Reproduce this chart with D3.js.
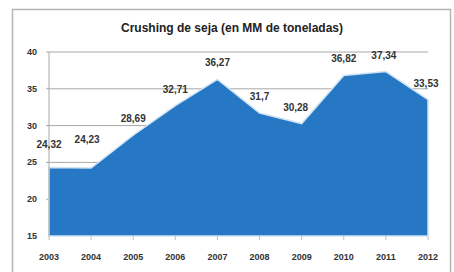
<!DOCTYPE html>
<html>
<head>
<meta charset="utf-8">
<script src="https://cdn.jsdelivr.net/npm/d3@7"></script>
<style>
  html, body { margin: 0; padding: 0; background: #fff; }
  text { font-family: "Liberation Sans Narrow", "Liberation Sans", Arial, sans-serif; }
</style>
</head>
<body>
<svg></svg>
<script>
/* chart data */
var years = ['2003', '2004', '2005', '2006', '2007', '2008', '2009', '2010', '2011', '2012'];
var crushing = [24.32, 24.23, 28.69, 32.71, 36.27, 31.7, 30.28, 36.82, 37.34, 33.53];
var yTicks = [15, 20, 25, 30, 35, 40];
var title = 'Crushing de seja (en MM de toneladas)';

svgWidth = 454;
svgHeight = 272;
var margin = {top: 52, right: 26, bottom: 36, left: 49};
var width = svgWidth - margin.left - margin.right;
var height = svgHeight - margin.top - margin.bottom;
var scale = {};

var svg = d3.select('svg')
    .attr('width', svgWidth)
    .attr('height', svgHeight);

/* outer frame */
svg.append('rect')
    .attr('x', 12.5).attr('y', 9.5)
    .attr('width', 438).attr('height', 270)
    .attr('fill', '#fff')
    .attr('stroke', '#b4b4b4')
    .attr('stroke-width', 1.5);

svg.append('text')
    .attr('x', 232).attr('y', 32)
    .attr('text-anchor', 'middle')
    .attr('font-size', 12)
    .attr('font-weight', 'bold')
    .attr('fill', '#222')
    .text(title);

setScale();

var g = svg.append('g')
    .attr('transform', translate(margin.left, margin.top));

/* grid lines */
g.selectAll('line.grid')
    .data(yTicks.filter(function(d){ return d > 15; }))
    .enter()
    .append('line')
    .attr('class', 'grid')
    .attr('x1', -3).attr('x2', width)
    .attr('y1', function(d){ return scale.y(d); })
    .attr('y2', function(d){ return scale.y(d); })
    .attr('stroke', '#a8a8a8')
    .attr('stroke-width', 1);

/* area */
var area = d3.area()
    .x(function(d, i){ return scale.x(years[i]); })
    .y0(scale.y(15))
    .y1(function(d){ return scale.y(d); });

g.append('path')
    .datum(crushing)
    .attr('d', area)
    .attr('fill', '#2677c4')
    .attr('stroke', '#cfe3f5')
    .attr('stroke-width', 1.5);

/* left axis line */
g.append('line')
    .attr('x1', 0).attr('x2', 0)
    .attr('y1', 0).attr('y2', height)
    .attr('stroke', '#a8a8a8');

/* x ticks */
g.selectAll('line.xtick')
    .data(years)
    .enter()
    .append('line')
    .attr('class', 'xtick')
    .attr('x1', function(d){ return scale.x(d); })
    .attr('x2', function(d){ return scale.x(d); })
    .attr('y1', height).attr('y2', height + 4)
    .attr('stroke', '#c0c0c0');

/* axis labels */
g.selectAll('text.ylab')
    .data(yTicks)
    .enter()
    .append('text')
    .attr('class', 'ylab')
    .attr('x', -12)
    .attr('y', function(d){ return scale.y(d) + 3; })
    .attr('text-anchor', 'end')
    .attr('font-size', 9)
    .attr('font-weight', 'bold')
    .attr('fill', '#333')
    .text(function(d){ return d; });

g.selectAll('text.xlab')
    .data(years)
    .enter()
    .append('text')
    .attr('class', 'xlab')
    .attr('x', function(d){ return scale.x(d); })
    .attr('y', height + 24)
    .attr('text-anchor', 'middle')
    .attr('font-size', 9)
    .attr('font-weight', 'bold')
    .attr('fill', '#333')
    .text(function(d){ return d; });

/* data labels: nudged like the excel auto placement */
var nudge = {0: [0, -6], 1: [-4, -12], 6: [-6, 0], 8: [-2, 0], 9: [-2, 0]};
g.selectAll('text.val')
    .data(crushing)
    .enter()
    .append('text')
    .attr('class', 'val')
    .attr('x', function(d, i){ return scale.x(years[i]) + (nudge[i] ? nudge[i][0] : 0); })
    .attr('y', function(d, i){ return scale.y(d) - 13 + (nudge[i] ? nudge[i][1] : 0); })
    .attr('text-anchor', 'middle')
    .attr('font-size', 10)
    .attr('font-weight', 'bold')
    .attr('fill', '#333')
    .text(function(d){ return String(d).replace('.', ','); });

function setScale(){
  scale.x = d3.scalePoint()
      .domain(years)
      .range([0, width]);

  scale.y = d3.scaleLinear()
      .domain([15, 40])
      .range([height, 0]);
}

function translate(x, y) {
    return 'translate(' + x + ',' + y + ')';
}
</script>
</body>
</html>
